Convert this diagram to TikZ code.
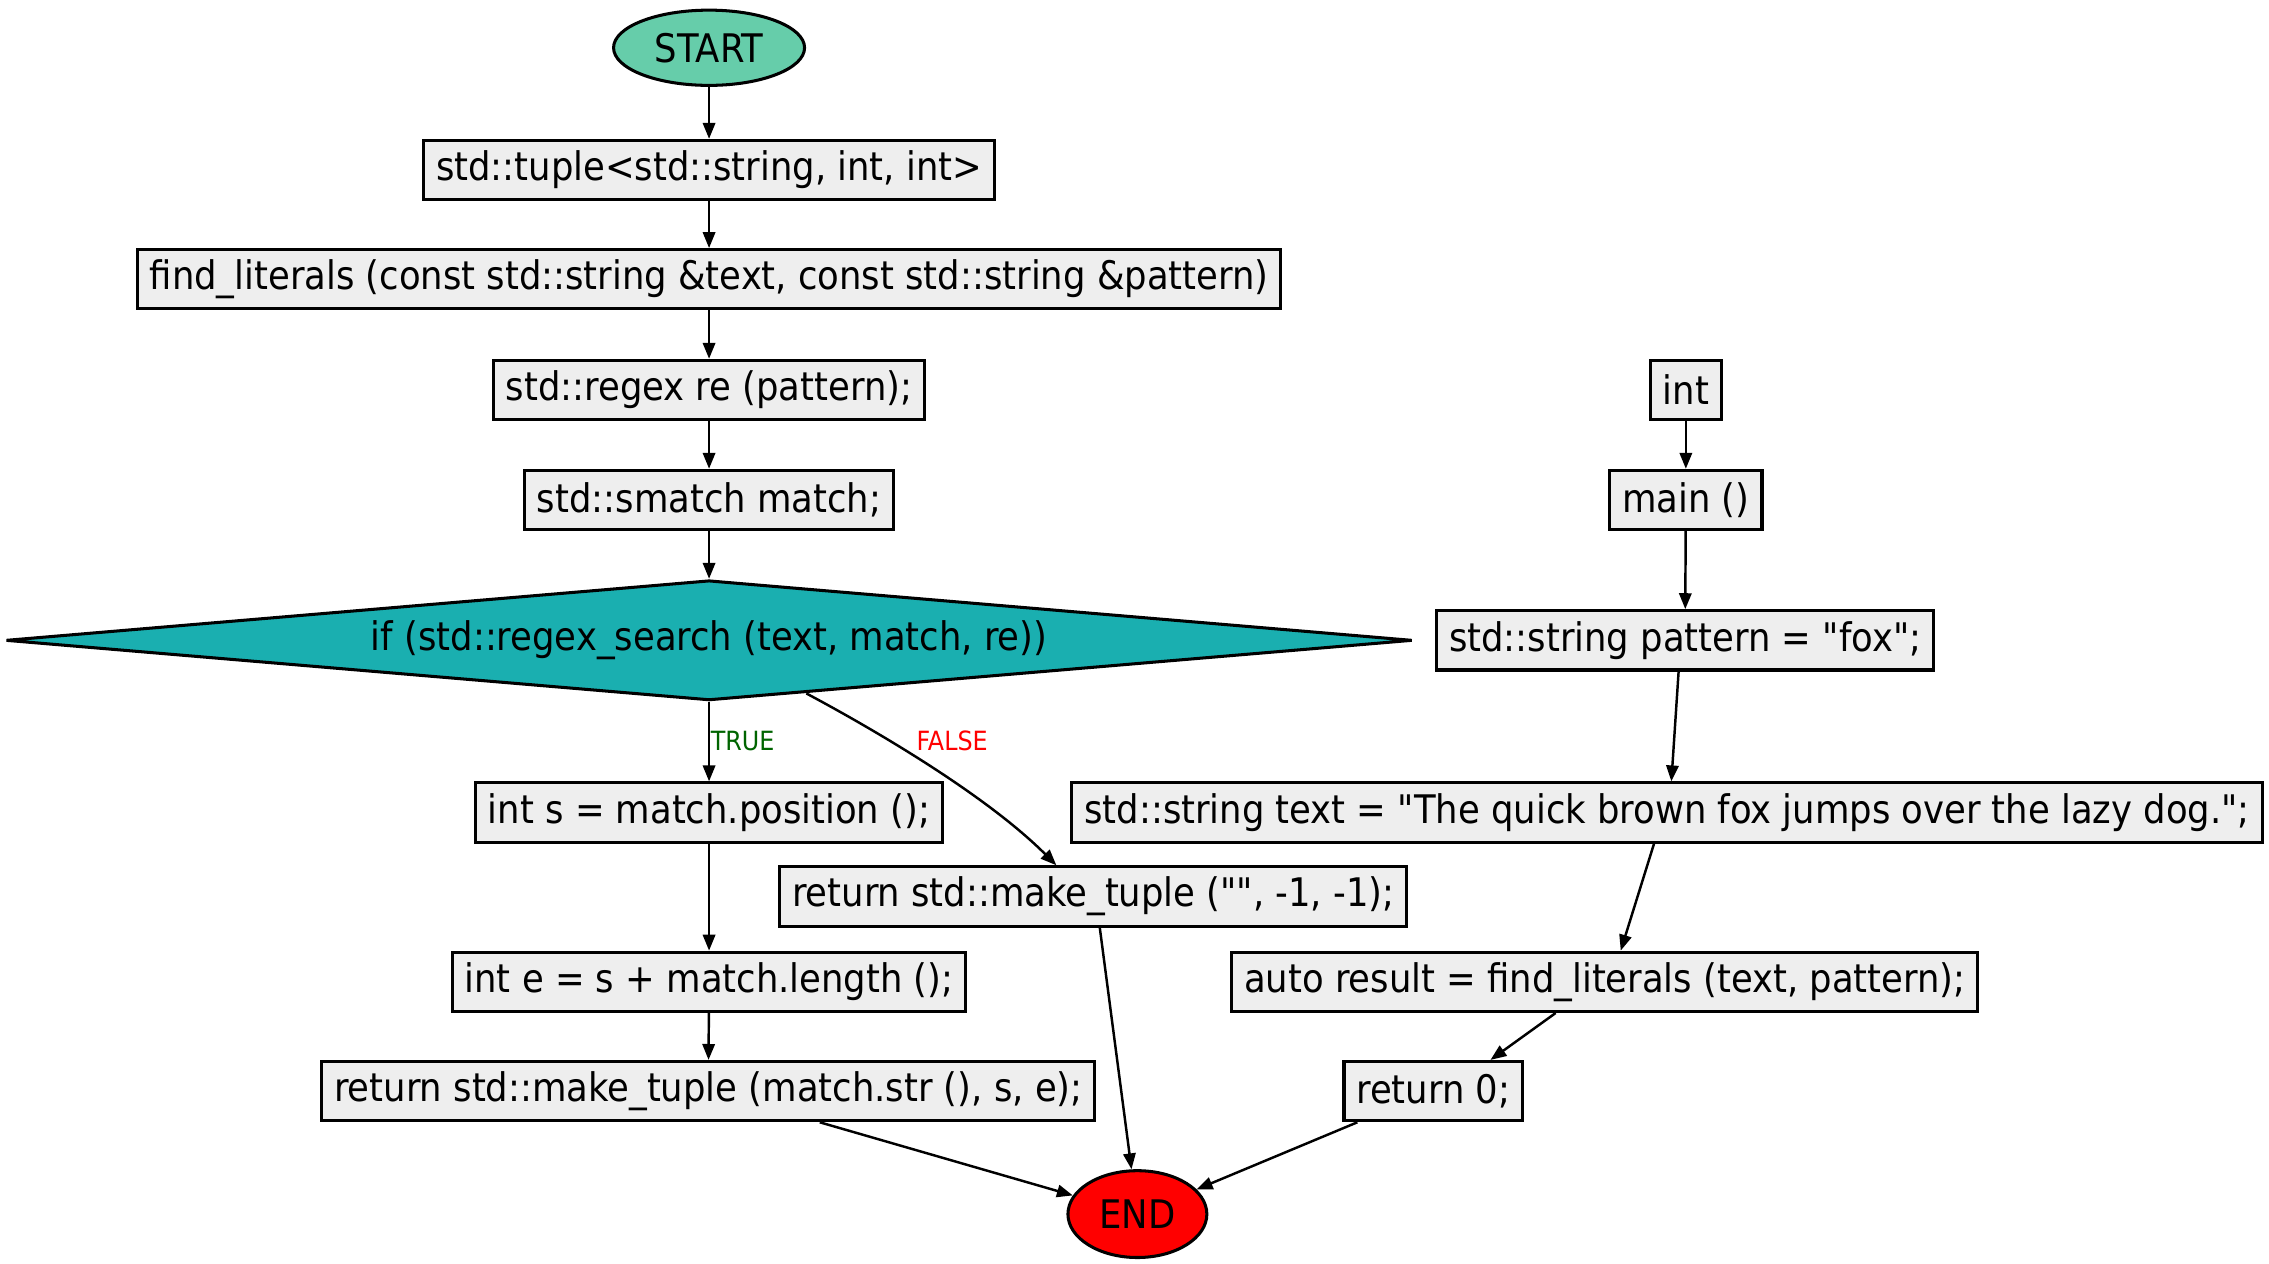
\documentclass[tikz,border=0pt]{standalone}
\usepackage{fontspec}
\setmainfont{DejaVu Sans Condensed}
\usetikzlibrary{shapes.geometric,arrows.meta,calc}
\definecolor{boxgray}{HTML}{EEEEEE}
\definecolor{startgreen}{HTML}{66CDAA}
\definecolor{condteal}{HTML}{1AAFB0}
\definecolor{truegreen}{HTML}{006400}
\newcommand{\dq}{\textquotedbl}
\begin{document}
\begin{tikzpicture}[x=1pt,y=-1pt,
  txt/.style={font=\fontsize{27.2}{31}\selectfont},
  box/.style={txt, draw, line width=2.1pt, fill=boxgray, inner xsep=8.6pt, inner ysep=0pt, minimum height=41pt},
  term/.style={txt, draw, line width=2.1pt, ellipse, inner sep=0pt},
  cond/.style={txt, draw, line width=2.1pt, diamond, aspect=11.7, fill=condteal, inner sep=0pt, minimum width=972pt, minimum height=83pt},
  arr/.style={-{Triangle[length=11pt,width=8.5pt]}, line width=1.7pt},
  lbl/.style={font=\fontsize{18.3}{21}\selectfont, inner sep=0pt}]
\useasboundingbox (0,0) rectangle (1568,873);

% left function: find_literals
\node[term, fill=startgreen, minimum width=132pt, minimum height=52pt] (start) at (490,33) {START};
\node[box] (tuple) at (490,117.5) {std::tuple<std::string, int, int>};
\node[box] (find) at (490,193) {find\_literals (const std::string \&text, const std::string \&pattern)};
\node[box] (re) at (490,269.5) {std::regex re (pattern);};
\node[box] (sm) at (490,345.5) {std::smatch match;};
\node[cond] (dia) at (490,442.5) {if (std::regex\_search (text, match, re))};
\node[box] (ints) at (490,561.5) {int s = match.position ();};
\node[box] (retf) at (755.5,619.5) {return std::make\_tuple (\dq\dq, -1, -1);};
\node[box] (inte) at (490,678.5) {int e = s + match.length ();};
\node[box] (rett) at (489.5,754) {return std::make\_tuple (match.str (), s, e);};
\node[term, fill=red, minimum width=96pt, minimum height=60pt] (end) at (786,839) {END};

% right function: main
\node[box] (int) at (1165,269.5) {int};
\node[box] (main) at (1165,345.5) {main ()};
\node[box] (pat) at (1164.5,442.5) {std::string pattern = \dq fox\dq;};
\node[box] (text) at (1152,561.5) {std::string text = \dq The quick brown fox jumps over the lazy dog.\dq;};
\node[box] (res) at (1109,678.5) {auto result = find\_literals (text, pattern);};
\node[box] (ret0) at (990.5,754) {return 0;};

% connectors
\draw[arr] (start) -- (tuple);
\draw[arr] (tuple) -- (find);
\draw[arr] (find) -- (re);
\draw[arr] (re) -- (sm);
\draw[arr] (sm) -- (dia);
\draw[arr] (dia.south) -- (ints.north);
\node[lbl, text=truegreen, anchor=west] (tl) at (491,512) {TRUE};
\coordinate (fs) at ($(dia.south)!0.138!(dia.east)$);
\coordinate (fe) at ($(retf.north)+(-25.5,0)$);
\draw[arr] (fs) .. controls (600,502) and (680,548) .. (fe);
\node[lbl, text=red] (fl) at (658,512) {FALSE};
\draw[arr] (ints) -- (inte);
\draw[arr] (inte) -- (rett);
\draw[arr] ($(rett.south)+(77,0)$) -- (end);
\draw[arr] ($(retf.south)+(4.5,0)$) -- (end);

\draw[arr] (int) -- (main);
\draw[arr] (main) -- (pat);
\draw[arr] ($(pat.south)+(-4.5,0)$) -- ($(text.north)+(3,0)$);
\draw[arr] ($(text.south)+(-9,0)$) -- ($(res.north)+(11,0)$);
\draw[arr] ($(res.south)+(-34,0)$) -- ($(ret0.north)+(39.5,0)$);
\draw[arr] ($(ret0.south)+(-52.5,0)$) -- (end);
\end{tikzpicture}
\end{document}
